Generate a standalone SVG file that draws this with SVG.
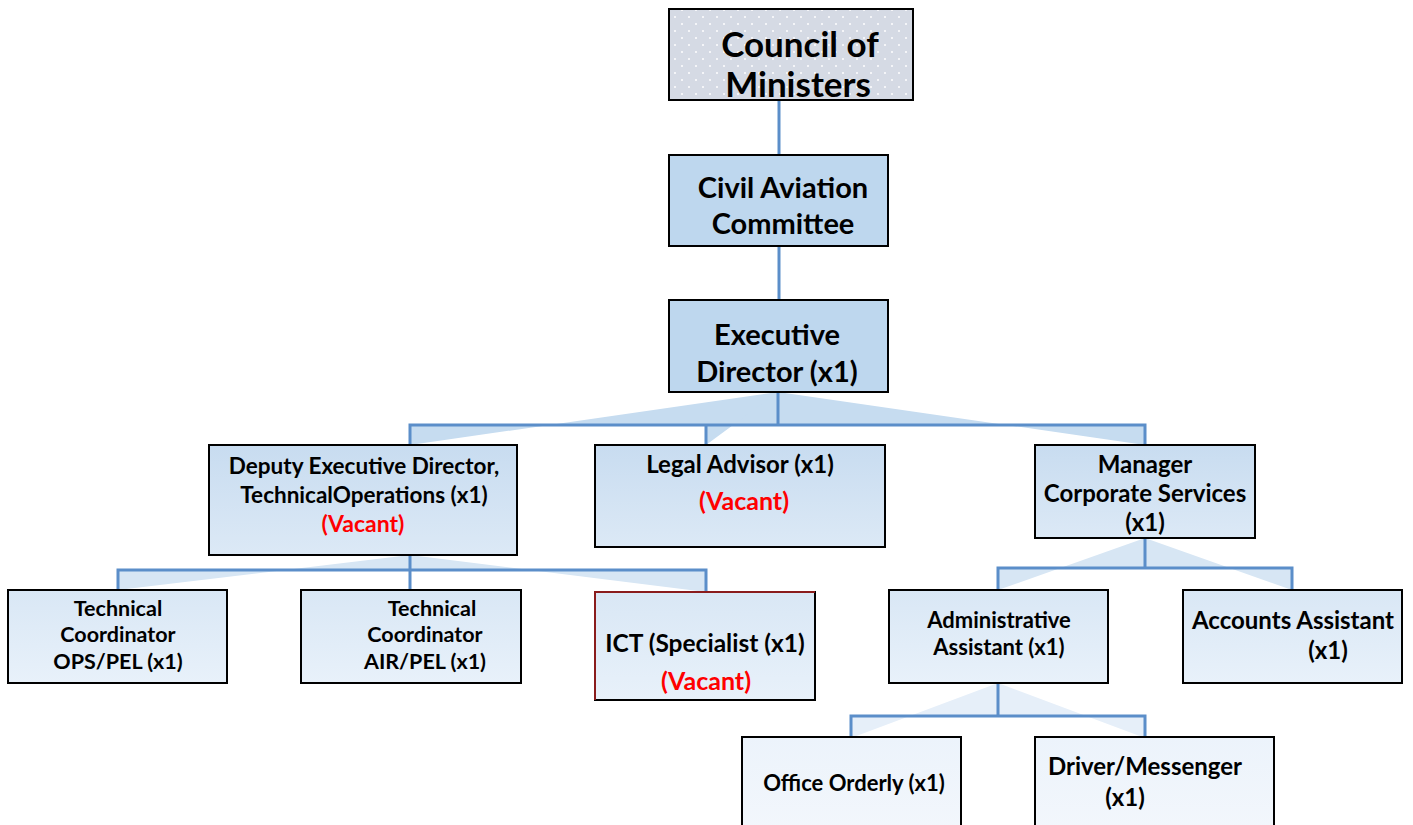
<svg xmlns="http://www.w3.org/2000/svg" width="1413" height="825" viewBox="0 0 1413 825">
<style>
.t{font-family:Lato,"Open Sans","Liberation Sans",sans-serif;font-weight:bold;fill:#000;text-anchor:middle}
.r{fill:#ff0000}
.box{stroke:#000;stroke-width:2}
.ln{fill:none;stroke:#5b8ec9;stroke-width:3}
.w1{fill:#c6dcf0;stroke:none}
.w2{fill:#d7e6f4;stroke:none}
.w3{fill:#e6eff9;stroke:none}
</style>
<defs>
<pattern id="dots" width="14" height="14" patternUnits="userSpaceOnUse">
<rect width="14" height="14" fill="#d5dae4"/>
<circle cx="3" cy="3" r="1" fill="#fff"/>
<circle cx="10" cy="10" r="1" fill="#fff"/>
</pattern>
<linearGradient id="g1" x1="0" y1="0" x2="0" y2="1">
<stop offset="0" stop-color="#c8dcf0"/><stop offset="1" stop-color="#dce9f6"/>
</linearGradient>
<linearGradient id="g2" x1="0" y1="0" x2="0" y2="1">
<stop offset="0" stop-color="#d9e7f5"/><stop offset="1" stop-color="#e8f1fa"/>
</linearGradient>
<linearGradient id="g3" x1="0" y1="0" x2="0" y2="1">
<stop offset="0" stop-color="#ecf3fb"/><stop offset="1" stop-color="#f3f7fc"/>
</linearGradient>
</defs>

<g id="connectors">
<path class="w1" d="M778,392 V425 H410 V445 Z"/>
<path class="w1" d="M778,392 V425 H706 V445 Z"/>
<path class="w1" d="M778,392 V425 H1145 V445 Z"/>
<path class="w2" d="M410,555 V570 H118 V590 Z"/>
<path class="w2" d="M410,555 V570 H706 V592 Z"/>
<path class="w2" d="M1145,538 V568 H998 V590 Z"/>
<path class="w2" d="M1145,538 V568 H1292 V590 Z"/>
<path class="w3" d="M998,683 V716 H851 V738 Z"/>
<path class="w3" d="M998,683 V716 H1145 V738 Z"/>
<path class="ln" d="M779,100 V155"/>
<path class="ln" d="M779,246 V300"/>
<path class="ln" d="M778,392 V425 M410,445 V425 H1145 V445 M706,425 V445"/>
<path class="ln" d="M410,555 V570 M118,590 V570 H706 V592 M410,570 V590"/>
<path class="ln" d="M1145,538 V568 M998,590 V568 H1292 V590"/>
<path class="ln" d="M998,683 V716 M851,738 V716 H1145 V738"/>
</g>

<g id="council">
<rect class="box" x="669" y="9" width="244" height="91" fill="url(#dots)"/>
<text class="t" x="800" y="57" font-size="35">Council of</text>
<text class="t" x="798" y="97" font-size="35">Ministers</text>
</g>

<g id="civil-aviation-committee">
<rect class="box" x="669" y="155" width="219" height="91" fill="#bed7ee"/>
<text class="t" x="783" y="198" font-size="29">Civil Aviation</text>
<text class="t" x="783" y="234" font-size="29">Committee</text>
</g>

<g id="executive-director">
<rect class="box" x="669" y="300" width="219" height="92" fill="#bed7ee"/>
<text class="t" x="777" y="345" font-size="29">Executive</text>
<text class="t" x="777" y="382" font-size="29">Director (x1)</text>
</g>

<g id="deputy-executive-director">
<rect class="box" x="209" y="445" width="308" height="110" fill="url(#g1)"/>
<text class="t" x="364" y="474" font-size="22.5">Deputy Executive Director,</text>
<text class="t" x="364" y="503" font-size="22.5">TechnicalOperations (x1)</text>
<text class="t r" x="363" y="532" font-size="23">(Vacant)</text>
</g>

<g id="legal-advisor">
<rect class="box" x="595" y="445" width="290" height="102" fill="url(#g1)"/>
<text class="t" x="740" y="473" font-size="24">Legal Advisor (x1)</text>
<text class="t r" x="744" y="510" font-size="25">(Vacant)</text>
</g>

<g id="manager-corporate-services">
<rect class="box" x="1035" y="445" width="220" height="93" fill="url(#g1)"/>
<text class="t" x="1145" y="473" font-size="24">Manager</text>
<text class="t" x="1145" y="502" font-size="24">Corporate Services</text>
<text class="t" x="1145" y="531" font-size="24">(x1)</text>
</g>

<g id="technical-coordinator-ops">
<rect class="box" x="8" y="590" width="219" height="93" fill="url(#g2)"/>
<text class="t" x="118" y="616" font-size="21.5">Technical</text>
<text class="t" x="118" y="642" font-size="21.5">Coordinator</text>
<text class="t" x="118" y="669" font-size="21.5">OPS/PEL (x1)</text>
</g>

<g id="technical-coordinator-air">
<rect class="box" x="301" y="590" width="220" height="93" fill="url(#g2)"/>
<text class="t" x="432" y="616" font-size="21.5">Technical</text>
<text class="t" x="425" y="642" font-size="21.5">Coordinator</text>
<text class="t" x="425" y="669" font-size="21.5">AIR/PEL (x1)</text>
</g>

<g id="ict-specialist">
<rect class="box" x="595" y="592" width="220" height="108" fill="url(#g2)"/>
<path d="M595,700 V592 H815" fill="none" stroke="#8a1c1c" stroke-width="2"/>
<text class="t" x="705" y="652" font-size="24.5">ICT (Specialist (x1)</text>
<text class="t r" x="706" y="690" font-size="25">(Vacant)</text>
</g>

<g id="administrative-assistant">
<rect class="box" x="889" y="590" width="219" height="93" fill="url(#g2)"/>
<text class="t" x="999" y="628" font-size="22">Administrative</text>
<text class="t" x="999" y="655" font-size="22">Assistant (x1)</text>
</g>

<g id="accounts-assistant">
<rect class="box" x="1183" y="590" width="219" height="93" fill="url(#g2)"/>
<text class="t" x="1293" y="629" font-size="24">Accounts Assistant</text>
<text class="t" x="1328" y="659" font-size="24">(x1)</text>
</g>

<g id="office-orderly">
<rect class="box" x="742" y="737" width="219" height="100" fill="url(#g3)"/>
<text class="t" x="854" y="791" font-size="22">Office Orderly (x1)</text>
</g>

<g id="driver-messenger">
<rect class="box" x="1035" y="737" width="239" height="100" fill="url(#g3)"/>
<text class="t" x="1145" y="775" font-size="24">Driver/Messenger</text>
<text class="t" x="1125" y="806" font-size="24">(x1)</text>
</g>
</svg>
